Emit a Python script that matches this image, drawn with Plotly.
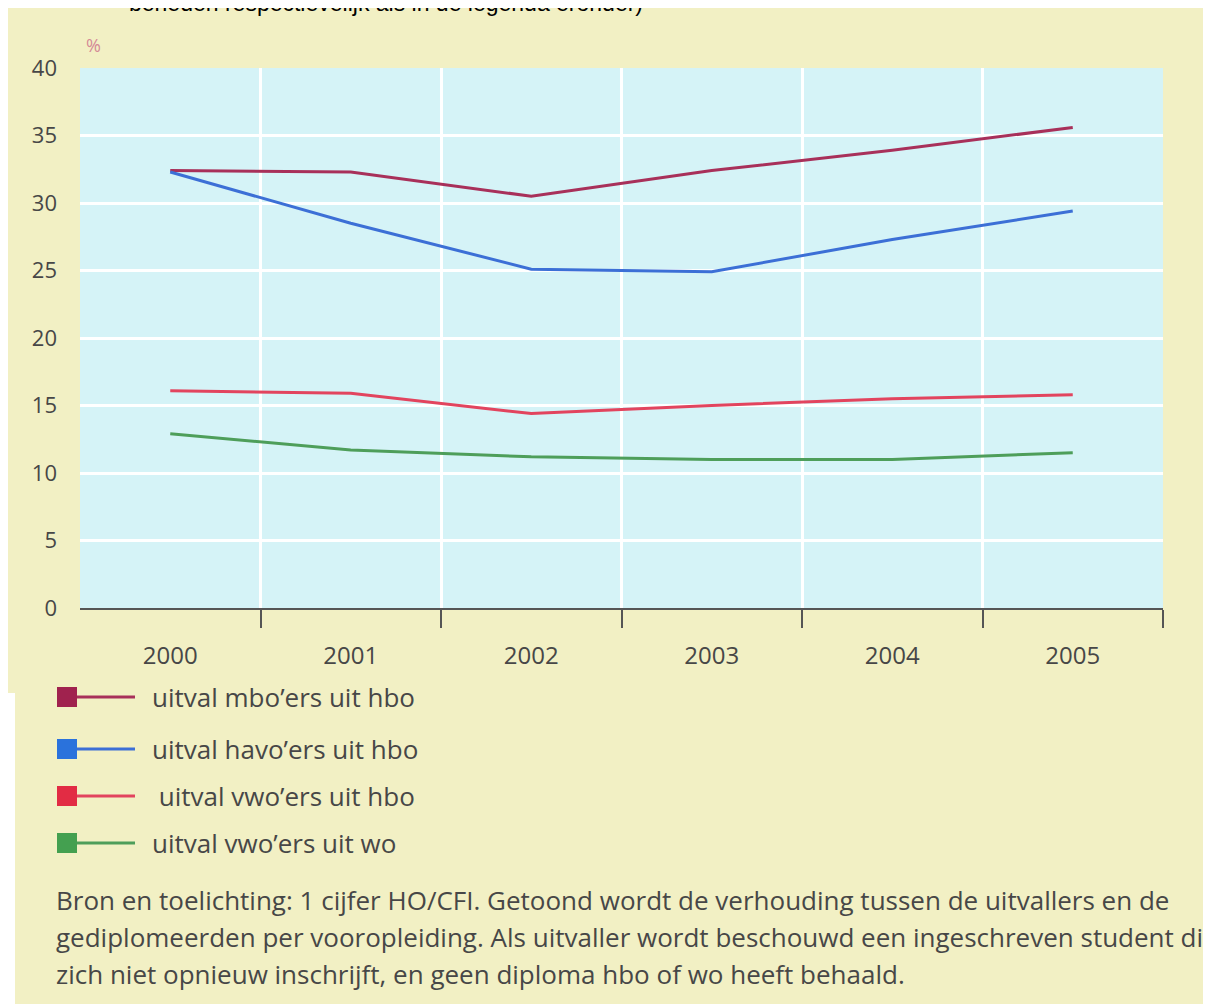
import plotly.graph_objects as go

# ---- data ----
years = [2000, 2001, 2002, 2003, 2004, 2005]
year_labels = ["2000", "2001", "2002", "2003", "2004", "2005"]
mbo_hbo = [32.4, 32.3, 30.5, 32.4, 33.9, 35.6]
havo_hbo = [32.3, 28.5, 25.1, 24.9, 27.3, 29.4]
vwo_hbo = [16.1, 15.9, 14.4, 15.0, 15.5, 15.8]
vwo_wo = [12.9, 11.7, 11.2, 11.0, 11.0, 11.5]
series_names = ["uitval mbo\u2019ers uit hbo", "uitval havo\u2019ers uit hbo",
                " uitval vwo\u2019ers uit hbo", "uitval vwo\u2019ers uit wo"]
y_ticks = [0, 5, 10, 15, 20, 25, 30, 35, 40]
footer_lines = [
    "Bron en toelichting: 1 cijfer HO/CFI. Getoond wordt de verhouding tussen de uitvallers en de",
    "gediplomeerden per vooropleiding. Als uitvaller wordt beschouwd een ingeschreven student die",
    "zich niet opnieuw inschrijft, en geen diploma hbo of wo heeft behaald.",
]
top_text = "beneden respectievelijk als in de legenda eronder)"

# ---- style ----
line_colors = ["#a8305a", "#3c6fd6", "#e2445e", "#4e9e5a"]
square_colors = ["#a0224e", "#2a72dc", "#e22c44", "#44a050"]
YELLOW = "#f2f0c4"
BLUE = "#d5f3f7"
TEXT = "#474747"
FONT = "Open Sans"

OFF = 8  # page offset of the figure (body margin)
W, H = 1203, 996
L, R, T, B = 72, 48, 60, 396
pw, ph = W - L - R, H - T - B


def px(x):  # page pixel -> paper x
    return (x - OFF - L) / pw


def py(y):  # page pixel -> paper y
    return (H - B - (y - OFF)) / ph


fig = go.Figure()
for vals, name, col in zip([mbo_hbo, havo_hbo, vwo_hbo, vwo_wo], series_names, line_colors):
    fig.add_trace(go.Scatter(x=years, y=vals, mode="lines", name=name.strip(),
                             line=dict(color=col, width=3), showlegend=False))

shapes = [
    dict(type="rect", xref="paper", yref="paper", x0=px(8), x1=px(15), y0=py(693), y1=py(1010),
         fillcolor="white", line=dict(width=0), layer="below"),
]
annotations = [
    dict(text=top_text, xref="paper", yref="paper", x=px(127), y=py(3), xanchor="left",
         yanchor="middle", showarrow=False, font=dict(family="Liberation Sans", size=23, color="black")),
    dict(text="%", xref="paper", yref="paper", x=px(93), y=py(45), xanchor="center",
         yanchor="middle", showarrow=False, font=dict(family=FONT, size=18, color="#d48a96")),
]

legend_y = [697, 749, 796, 843]
for i, (name, sc, lc) in enumerate(zip(series_names, square_colors, line_colors)):
    cy = legend_y[i]
    shapes.append(dict(type="line", xref="paper", yref="paper", x0=px(77), x1=px(135),
                       y0=py(cy), y1=py(cy), line=dict(color=lc, width=3)))
    shapes.append(dict(type="rect", xref="paper", yref="paper", x0=px(57), x1=px(77),
                       y0=py(cy + 10), y1=py(cy - 10), fillcolor=sc, line=dict(width=0)))
    annotations.append(dict(text=name, xref="paper", yref="paper", x=px(150), y=py(cy),
                            xanchor="left", yanchor="middle", showarrow=False,
                            font=dict(family=FONT, size=26, color=TEXT)))

for i, line in enumerate(footer_lines):
    annotations.append(dict(text=line, xref="paper", yref="paper", x=px(54), y=py(900 + 37 * i),
                            xanchor="left", yanchor="middle", showarrow=False,
                            font=dict(family=FONT, size=26, color=TEXT)))

fig.update_layout(
    width=W, height=H,
    margin=dict(l=L, r=R, t=T, b=B, autoexpand=False),
    paper_bgcolor=YELLOW, plot_bgcolor=BLUE,
    font=dict(family=FONT, color=TEXT),
    shapes=shapes, annotations=annotations,
    xaxis=dict(range=[1999.5, 2005.5], tickmode="array", tickvals=years, ticktext=year_labels,
               ticks="", showgrid=False, zeroline=False, showline=True, linecolor="#555555",
               linewidth=2, tickfont=dict(size=24, color=TEXT), ticklabelstandoff=25,
               minor=dict(tickmode="array", tickvals=[y + 0.5 for y in years], ticks="outside",
                          ticklen=18, tickwidth=2, tickcolor="#555555", showgrid=True,
                          gridcolor="white", gridwidth=3)),
    yaxis=dict(range=[0, 40], tickmode="array", tickvals=y_ticks, ticks="", showgrid=True,
               gridcolor="white", gridwidth=3, zeroline=False, showline=False,
               tickfont=dict(size=22, color=TEXT), ticklabelstandoff=22),
)

fig.write_html("out.html")
